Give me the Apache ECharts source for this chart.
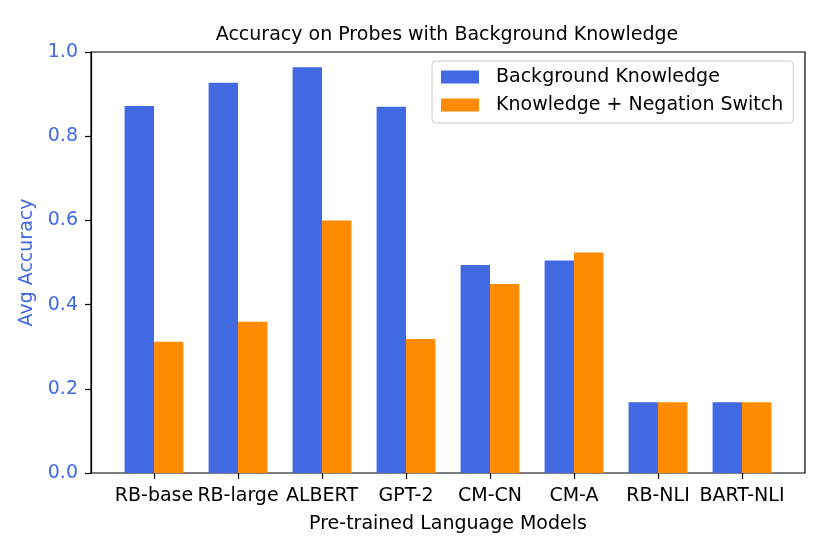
<!DOCTYPE html>
<html>
<head>
<meta charset="utf-8">
<script src="https://cdn.jsdelivr.net/npm/echarts@6/dist/echarts.min.js"></script>
<style>html,body{margin:0;padding:0;background:#fff}#c{width:830px;height:554px}</style>
</head>
<body>
<div id="c"></div>
<script>
const categories = ['RB-base', 'RB-large', 'ALBERT', 'GPT-2', 'CM-CN', 'CM-A', 'RB-NLI', 'BART-NLI'];
const backgroundKnowledge = [0.872, 0.927, 0.964, 0.870, 0.494, 0.505, 0.168, 0.168];
const negationSwitch = [0.312, 0.359, 0.600, 0.318, 0.449, 0.524, 0.168, 0.168];
const yTicks = [0, 0.2, 0.4, 0.6, 0.8, 1.0];

const FONT = 'DejaVu Sans';
const chart = echarts.init(document.getElementById('c'), null, {renderer: 'canvas'});
chart.setOption({
  backgroundColor: '#fff',
  animation: false,
  title: {
    text: 'Accuracy on Probes with Background Knowledge',
    left: 442, top: 21, textAlign: 'center',
    textStyle: {fontFamily: FONT, fontSize: 19, fontWeight: 'normal', color: '#000'}
  },
  legend: {
    orient: 'vertical', left: 432, top: 61,
    padding: [5, 10, 7, 9],
    itemWidth: 38, itemHeight: 13, itemGap: 6,
    icon: 'rect',
    borderColor: '#cccccc', borderWidth: 1, borderRadius: 4,
    backgroundColor: 'rgba(255,255,255,0.8)',
    textStyle: {fontFamily: FONT, fontSize: 19, color: '#000', lineHeight: 22, padding: [0, 0, 0, 12]},
    data: ['Background Knowledge', 'Knowledge + Negation Switch']
  },
  grid: [
    {left: 112, right: 46, top: 52, bottom: 81},
    {left: 91, right: 25, top: 52, bottom: 81, show: true, borderColor: '#000', borderWidth: 1.2, backgroundColor: 'transparent'}
  ],
  xAxis: [
    {
      type: 'category', gridIndex: 0, data: categories,
      axisLine: {show: false},
      axisTick: {show: true, alignWithLabel: true, length: 6, lineStyle: {color: '#000', width: 1.2}},
      axisLabel: {fontFamily: FONT, fontSize: 19, color: '#000', margin: 14, interval: 0},
      name: 'Pre-trained Language Models', nameLocation: 'middle', nameGap: 42,
      nameTextStyle: {fontFamily: FONT, fontSize: 19, color: '#000'}
    },
    {type: 'value', gridIndex: 1, show: false, min: 0, max: 1}
  ],
  yAxis: [
    {type: 'value', gridIndex: 0, min: 0, max: 1, show: false},
    {
      type: 'value', gridIndex: 1, min: 0, max: 1, interval: 0.2,
      splitLine: {show: false},
      axisLine: {show: true, lineStyle: {color: '#000', width: 1.2}},
      axisTick: {show: true, length: 6, lineStyle: {color: '#000', width: 1.2}},
      axisLabel: {fontFamily: FONT, fontSize: 19, color: '#4169E1', margin: 13,
        formatter: v => yTicks.some(t => Math.abs(t - v) < 1e-9) ? v.toFixed(1) : ''},
      name: 'Avg Accuracy', nameLocation: 'middle', nameGap: 44, nameRotate: 90,
      nameTextStyle: {fontFamily: FONT, fontSize: 19, color: '#4169E1'}
    }
  ],
  series: [
    {
      name: 'Background Knowledge', type: 'bar', xAxisIndex: 0, yAxisIndex: 0,
      data: backgroundKnowledge, barWidth: 29.4, barGap: '0%',
      itemStyle: {color: '#4169E1'}
    },
    {
      name: 'Knowledge + Negation Switch', type: 'bar', xAxisIndex: 0, yAxisIndex: 0,
      data: negationSwitch, barWidth: 29.4, barGap: '0%',
      itemStyle: {color: '#FF8C00'}
    }
  ]
});
</script>
</body>
</html>
